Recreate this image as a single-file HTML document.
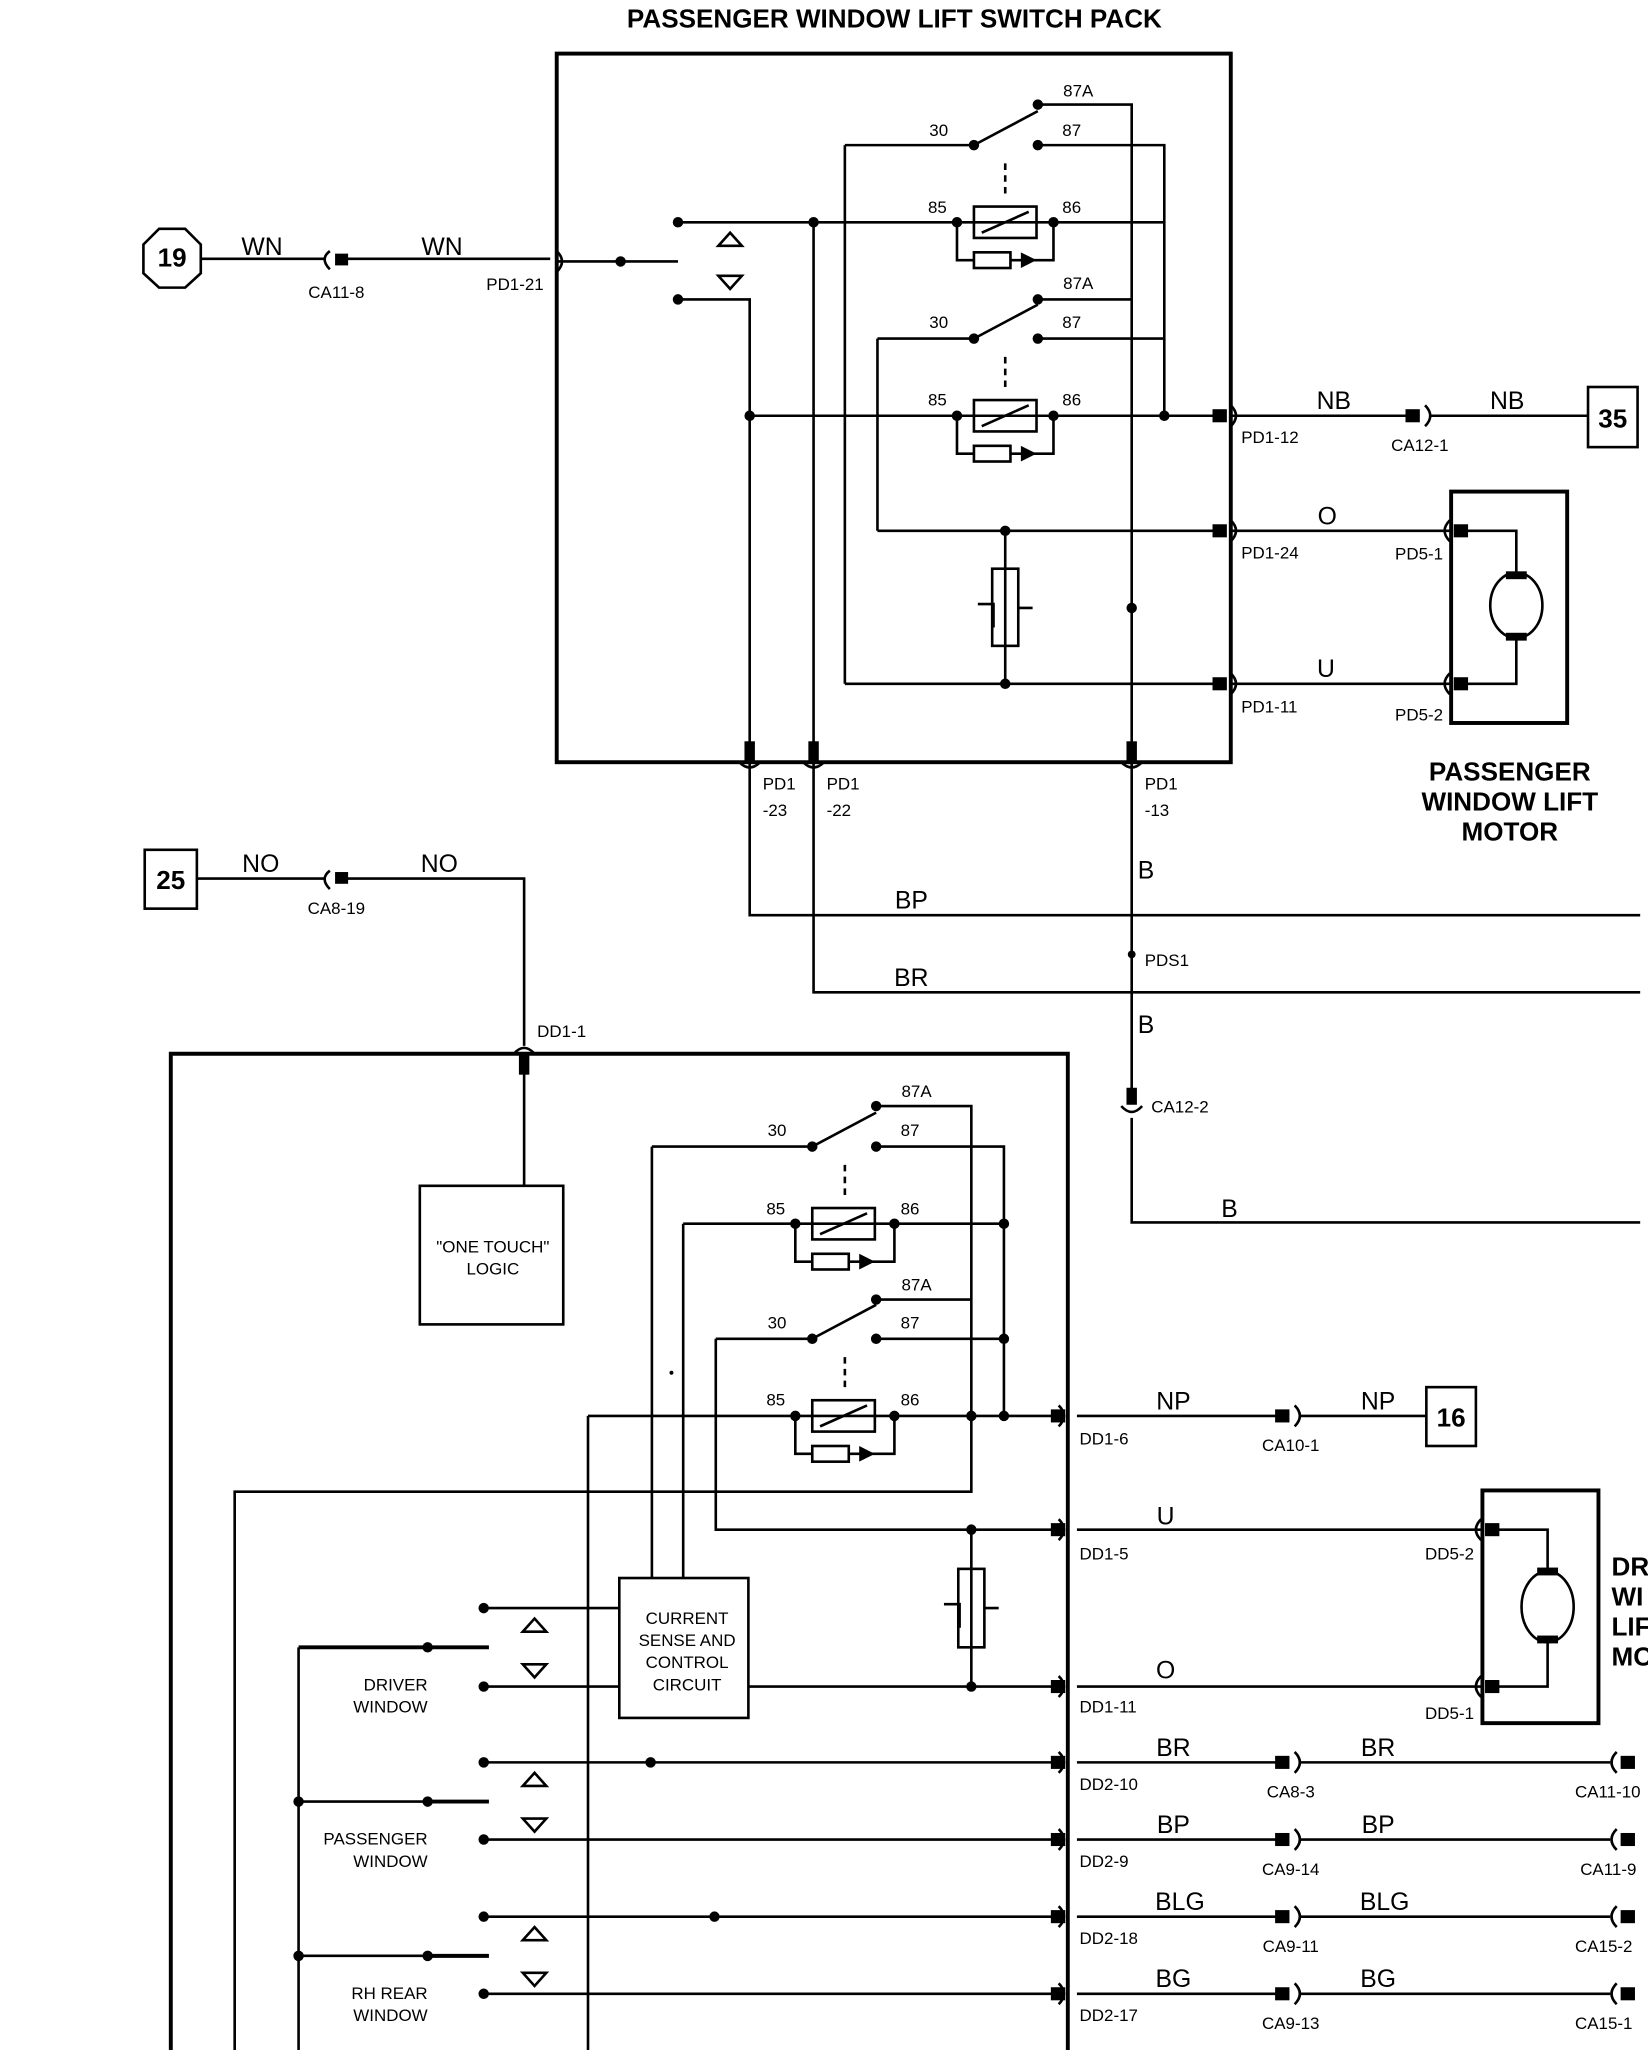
<!DOCTYPE html>
<html><head><meta charset="utf-8"><style>
html,body{margin:0;padding:0;background:#fff}
svg{display:block}
text{font-family:"Liberation Sans",sans-serif;fill:#000}
.s{font-size:13px}.m{font-size:19px}.b{font-size:20px;font-weight:bold}
</style></head><body>
<svg width="1648" height="2050" viewBox="0 0 1264 1568" preserveAspectRatio="none" xmlns="http://www.w3.org/2000/svg">
<g stroke="#000" stroke-width="2" fill="none">
<!-- box1 -->
<rect x="427" y="41" width="517" height="542" stroke-width="3"/>
<!-- 19 -->
<path d="M122 175 L142 175 L154 187 L154 209 L142 220 L122 220 L110 209 L110 187 Z"/>
<path d="M154 198 H250 M262 198 H422 M427 200 H520 M520 170 H808 M520 229 H575 V573 M624 170 V573"/>
<path d="M734 170 V199 H747 M775 199 H808 V170 M808 170 H893"/>
<path d="M648 111 H747 M648 111 V523 M796 111 H893 V318 M796 80 H868 V573 M747 111 L796 85"/>
<path d="M771 125 V150 M771 273 V298" stroke-dasharray="5 4"/>
<path d="M796 229 H868 M673 259 H747 M673 259 V406 M796 259 H893 M747 259 L796 233"/>
<path d="M575 318 H936 M734 318 V347 H747 M775 347 H808 V318"/>
<rect x="747" y="158" width="48" height="24"/><rect x="747" y="193" width="28" height="12"/>
<rect x="747" y="306" width="48" height="24"/><rect x="747" y="341" width="28" height="12"/>
<path d="M753 178 L789 162 M753 326 L789 310"/>
<path d="M673 406 H936 M771 406 V523 M648 523 H936"/>
<rect x="761" y="435" width="20" height="59"/><path d="M750 462 H762 V480 M781 465 H792"/>
<path d="M944 318 H1080 M1096 318 H1218 M944 406 H1112 M944 523 H1112"/>
<rect x="1218" y="296" width="38" height="46"/>
<rect x="1113" y="376" width="89" height="177" stroke-width="3"/>
<path d="M1120 406 H1163 V440 M1120 523 H1163 V488"/>
<ellipse cx="1163" cy="463" rx="20" ry="25"/>
<!-- bus lines -->
<rect x="111" y="650" width="40" height="45"/>
<path d="M151 672 H250 M262 672 H402 V800 M402 815 V907 M575 583 V700 H1258 M624 583 V759 H1258 M868 583 V840 M868 855 V935 H1258"/>
<!-- box2 -->
<path d="M131 1568 V806 H819 V1568" stroke-width="3"/>
<rect x="322" y="907" width="110" height="106"/>
<path d="M500 877 H623 M500 877 V1207 M672 877 H770 V1083 M672 846 H745 V1141 H180 V1568 M623 877 L672 851"/>
<path d="M648 891 V916 M648 1038 V1063" stroke-dasharray="5 4"/>
<path d="M524 936 H770 M524 936 V1207 M610 936 V965 H623 M651 965 H686 V936"/>
<rect x="623" y="924" width="48" height="24"/><rect x="623" y="959" width="28" height="12"/>
<path d="M549 1024 H623 M549 1024 V1170 H812 M672 1024 H770 M672 994 H745 M623 1024 L672 998"/>
<path d="M451 1083 H812 M451 1083 V1568 M610 1083 V1112 H623 M651 1112 H686 V1083"/>
<rect x="623" y="1071" width="48" height="24"/><rect x="623" y="1106" width="28" height="12"/>
<path d="M629 944 L665 928 M629 1091 L665 1075"/>
<path d="M745 1170 V1290 M574 1290 H812"/>
<rect x="735" y="1200" width="20" height="60"/><path d="M724 1227 H736 V1245 M755 1230 H766"/>
<rect x="475" y="1207" width="99" height="107"/>
<path d="M371 1230 H475 M371 1290 H475 M229 1260 V1568 M229 1378 H328 M229 1496 H328"/>
<path d="M229 1260 H328" stroke-width="3"/>
<path d="M328 1260 H375 M328 1378 H375 M328 1496 H375" stroke-width="3"/>
<path d="M371 1348 H812 M371 1407 H812 M371 1466 H812 M371 1525 H812"/>
<path d="M826 1083 H980 M996 1083 H1094 M826 1170 H1137 M826 1290 H1137"/>
<rect x="1094" y="1061" width="38" height="45"/>
<rect x="1137" y="1140" width="89" height="178" stroke-width="3"/>
<path d="M1144 1170 H1187 V1200 M1144 1290 H1187 V1255"/>
<ellipse cx="1187" cy="1229" rx="20" ry="27"/>
<path d="M826 1348 H980 M996 1348 H1235 M826 1407 H980 M996 1407 H1235 M826 1466 H980 M996 1466 H1235 M826 1525 H980 M996 1525 H1235"/>
<!-- triangles -->
<path d="M551 188 L560 178 L569 188 Z M551 211 L569 211 L560 221 Z"/>
<path d="M401 1248 L410 1238 L419 1248 Z M401 1273 L419 1273 L410 1283 Z M401 1366 L410 1356 L419 1366 Z M401 1391 L419 1391 L410 1401 Z M401 1484 L410 1474 L419 1484 Z M401 1509 L419 1509 L410 1519 Z"/>
<!-- connector brackets -->
<path d="M253 192 Q245 198 253 206 M427 192 Q435 200 427 208 M944 310 Q952 318 944 326 M944 398 Q952 406 944 414 M944 515 Q952 523 944 531 M1093 310 Q1101 318 1093 326 M1112 398 Q1104 406 1112 414 M1112 515 Q1104 523 1112 531 M253 666 Q245 672 253 680 M394 806 Q402 797 410 806 M860 846 Q868 855 876 846 M567 583 Q575 591 583 583 M616 583 Q624 591 632 583 M860 583 Q868 591 876 583"/>
<path d="M812 1075 Q820 1083 812 1091 M812 1162 Q820 1170 812 1178 M812 1282 Q820 1290 812 1298 M812 1340 Q820 1348 812 1356 M812 1399 Q820 1407 812 1415 M812 1458 Q820 1466 812 1474 M812 1517 Q820 1525 812 1533 M993 1075 Q1001 1083 993 1091 M1136 1162 Q1128 1170 1136 1178 M1136 1282 Q1128 1290 1136 1298"/>
<path d="M993 1340 Q1001 1348 993 1356 M993 1399 Q1001 1407 993 1415 M993 1458 Q1001 1466 993 1474 M993 1517 Q1001 1525 993 1533 M1240 1340 Q1232 1348 1240 1356 M1240 1399 Q1232 1407 1240 1415 M1240 1458 Q1232 1466 1240 1474 M1240 1517 Q1232 1525 1240 1533"/>
</g>
<g fill="#000">
<polygon points="783,193 783,205 795,199"/><polygon points="783,341 783,353 795,347"/>
<polygon points="659,959 659,971 671,965"/><polygon points="659,1106 659,1118 671,1112"/>
<rect x="257" y="194" width="10" height="9"/><rect x="930" y="313" width="11" height="10"/><rect x="930" y="401" width="11" height="10"/><rect x="930" y="518" width="11" height="10"/>
<rect x="1078" y="313" width="11" height="10"/><rect x="1115" y="401" width="11" height="10"/><rect x="1115" y="518" width="11" height="10"/>
<rect x="257" y="667" width="10" height="9"/><rect x="398" y="806" width="8" height="16"/><rect x="864" y="832" width="8" height="13"/>
<rect x="571" y="567" width="8" height="16"/><rect x="620" y="567" width="8" height="16"/><rect x="864" y="567" width="8" height="16"/>
<rect x="806" y="1078" width="11" height="10"/><rect x="806" y="1165" width="11" height="10"/><rect x="806" y="1285" width="11" height="10"/><rect x="806" y="1343" width="11" height="10"/><rect x="806" y="1402" width="11" height="10"/><rect x="806" y="1461" width="11" height="10"/><rect x="806" y="1520" width="11" height="10"/>
<rect x="978" y="1078" width="11" height="10"/><rect x="978" y="1343" width="11" height="10"/><rect x="978" y="1402" width="11" height="10"/><rect x="978" y="1461" width="11" height="10"/><rect x="978" y="1520" width="11" height="10"/>
<rect x="1139" y="1165" width="11" height="10"/><rect x="1139" y="1285" width="11" height="10"/>
<rect x="1243" y="1343" width="11" height="10"/><rect x="1243" y="1402" width="11" height="10"/><rect x="1243" y="1461" width="11" height="10"/><rect x="1243" y="1520" width="11" height="10"/>
<rect x="1155" y="437" width="16" height="6"/><rect x="1155" y="484" width="16" height="6"/>
<rect x="1179" y="1199" width="16" height="6"/><rect x="1179" y="1251" width="16" height="6"/>
<g>
<circle cx="476" cy="200" r="4"/><circle cx="520" cy="170" r="4"/><circle cx="520" cy="229" r="4"/><circle cx="624" cy="170" r="4"/><circle cx="734" cy="170" r="4"/><circle cx="808" cy="170" r="4"/>
<circle cx="747" cy="111" r="4"/><circle cx="796" cy="80" r="4"/><circle cx="796" cy="111" r="4"/>
<circle cx="747" cy="259" r="4"/><circle cx="796" cy="229" r="4"/><circle cx="796" cy="259" r="4"/>
<circle cx="575" cy="318" r="4"/><circle cx="734" cy="318" r="4"/><circle cx="808" cy="318" r="4"/><circle cx="893" cy="318" r="4"/>
<circle cx="771" cy="406" r="4"/><circle cx="771" cy="523" r="4"/><circle cx="868" cy="465" r="4"/><circle cx="868" cy="730" r="3"/>
<circle cx="623" cy="877" r="4"/><circle cx="672" cy="846" r="4"/><circle cx="672" cy="877" r="4"/>
<circle cx="610" cy="936" r="4"/><circle cx="686" cy="936" r="4"/><circle cx="770" cy="936" r="4"/>
<circle cx="623" cy="1024" r="4"/><circle cx="672" cy="994" r="4"/><circle cx="672" cy="1024" r="4"/><circle cx="770" cy="1024" r="4"/>
<circle cx="610" cy="1083" r="4"/><circle cx="686" cy="1083" r="4"/><circle cx="745" cy="1083" r="4"/><circle cx="770" cy="1083" r="4"/>
<circle cx="745" cy="1170" r="4"/><circle cx="745" cy="1290" r="4"/>
<circle cx="371" cy="1230" r="4"/><circle cx="328" cy="1260" r="4"/><circle cx="371" cy="1290" r="4"/>
<circle cx="371" cy="1348" r="4"/><circle cx="328" cy="1378" r="4"/><circle cx="371" cy="1407" r="4"/><circle cx="499" cy="1348" r="4"/>
<circle cx="371" cy="1466" r="4"/><circle cx="328" cy="1496" r="4"/><circle cx="371" cy="1525" r="4"/><circle cx="548" cy="1466" r="4"/>
<circle cx="229" cy="1378" r="4"/><circle cx="229" cy="1496" r="4"/><circle cx="515" cy="1050" r="1.5"/>
</g>
</g>
<text x="686" y="21" class="b" text-anchor="middle">PASSENGER WINDOW LIFT SWITCH PACK</text>
<text x="132" y="204" class="b" text-anchor="middle">19</text>
<text x="201" y="195" class="m" text-anchor="middle">WN</text><text x="339" y="195" class="m" text-anchor="middle">WN</text>
<text x="258" y="228" class="s" text-anchor="middle">CA11-8</text><text x="395" y="222" class="s" text-anchor="middle">PD1-21</text>
<text x="827" y="74" class="s" text-anchor="middle">87A</text><text x="720" y="104" class="s" text-anchor="middle">30</text><text x="822" y="104" class="s" text-anchor="middle">87</text>
<text x="719" y="163" class="s" text-anchor="middle">85</text><text x="822" y="163" class="s" text-anchor="middle">86</text>
<text x="827" y="221" class="s" text-anchor="middle">87A</text><text x="720" y="251" class="s" text-anchor="middle">30</text><text x="822" y="251" class="s" text-anchor="middle">87</text>
<text x="719" y="310" class="s" text-anchor="middle">85</text><text x="822" y="310" class="s" text-anchor="middle">86</text>
<text x="952" y="339" class="s">PD1-12</text><text x="952" y="427" class="s">PD1-24</text><text x="952" y="545" class="s">PD1-11</text>
<text x="1023" y="313" class="m" text-anchor="middle">NB</text><text x="1156" y="313" class="m" text-anchor="middle">NB</text>
<text x="1089" y="345" class="s" text-anchor="middle">CA12-1</text>
<text x="1237" y="327" class="b" text-anchor="middle">35</text>
<text x="1018" y="401" class="m" text-anchor="middle">O</text><text x="1017" y="518" class="m" text-anchor="middle">U</text>
<text x="1070" y="428" class="s">PD5-1</text><text x="1070" y="551" class="s">PD5-2</text>
<text x="1158" y="597" class="b" text-anchor="middle">PASSENGER</text><text x="1158" y="620" class="b" text-anchor="middle">WINDOW LIFT</text><text x="1158" y="643" class="b" text-anchor="middle">MOTOR</text>
<text x="585" y="604" class="s">PD1</text><text x="585" y="624" class="s">-23</text><text x="634" y="604" class="s">PD1</text><text x="634" y="624" class="s">-22</text><text x="878" y="604" class="s">PD1</text><text x="878" y="624" class="s">-13</text>
<text x="131" y="680" class="b" text-anchor="middle">25</text>
<text x="200" y="667" class="m" text-anchor="middle">NO</text><text x="337" y="667" class="m" text-anchor="middle">NO</text>
<text x="258" y="699" class="s" text-anchor="middle">CA8-19</text>
<text x="879" y="672" class="m" text-anchor="middle">B</text><text x="699" y="695" class="m" text-anchor="middle">BP</text><text x="699" y="754" class="m" text-anchor="middle">BR</text>
<text x="878" y="739" class="s">PDS1</text><text x="879" y="790" class="m" text-anchor="middle">B</text>
<text x="412" y="793" class="s">DD1-1</text><text x="883" y="851" class="s">CA12-2</text><text x="943" y="931" class="m" text-anchor="middle">B</text>
<text x="378" y="958" class="s" text-anchor="middle">"ONE TOUCH"</text><text x="378" y="975" class="s" text-anchor="middle">LOGIC</text>
<text x="703" y="839" class="s" text-anchor="middle">87A</text><text x="596" y="869" class="s" text-anchor="middle">30</text><text x="698" y="869" class="s" text-anchor="middle">87</text>
<text x="595" y="929" class="s" text-anchor="middle">85</text><text x="698" y="929" class="s" text-anchor="middle">86</text>
<text x="703" y="987" class="s" text-anchor="middle">87A</text><text x="596" y="1016" class="s" text-anchor="middle">30</text><text x="698" y="1016" class="s" text-anchor="middle">87</text>
<text x="595" y="1075" class="s" text-anchor="middle">85</text><text x="698" y="1075" class="s" text-anchor="middle">86</text>
<text x="828" y="1105" class="s">DD1-6</text><text x="828" y="1193" class="s">DD1-5</text><text x="828" y="1310" class="s">DD1-11</text>
<text x="900" y="1078" class="m" text-anchor="middle">NP</text><text x="1057" y="1078" class="m" text-anchor="middle">NP</text>
<text x="990" y="1110" class="s" text-anchor="middle">CA10-1</text><text x="1113" y="1091" class="b" text-anchor="middle">16</text>
<text x="894" y="1166" class="m" text-anchor="middle">U</text><text x="894" y="1284" class="m" text-anchor="middle">O</text>
<text x="1093" y="1193" class="s">DD5-2</text><text x="1093" y="1315" class="s">DD5-1</text>
<text x="1236" y="1205" class="b">DR</text><text x="1236" y="1228" class="b">WI</text><text x="1236" y="1251" class="b">LIF</text><text x="1236" y="1274" class="b">MO</text>
<text x="527" y="1242" class="s" text-anchor="middle">CURRENT</text><text x="527" y="1259" class="s" text-anchor="middle">SENSE AND</text><text x="527" y="1276" class="s" text-anchor="middle">CONTROL</text><text x="527" y="1293" class="s" text-anchor="middle">CIRCUIT</text>
<text x="328" y="1293" class="s" text-anchor="end">DRIVER</text><text x="328" y="1310" class="s" text-anchor="end">WINDOW</text>
<text x="328" y="1411" class="s" text-anchor="end">PASSENGER</text><text x="328" y="1428" class="s" text-anchor="end">WINDOW</text>
<text x="328" y="1529" class="s" text-anchor="end">RH REAR</text><text x="328" y="1546" class="s" text-anchor="end">WINDOW</text>
<text x="828" y="1369" class="s">DD2-10</text><text x="828" y="1428" class="s">DD2-9</text><text x="828" y="1487" class="s">DD2-18</text><text x="828" y="1546" class="s">DD2-17</text>
<text x="900" y="1343" class="m" text-anchor="middle">BR</text><text x="1057" y="1343" class="m" text-anchor="middle">BR</text>
<text x="900" y="1402" class="m" text-anchor="middle">BP</text><text x="1057" y="1402" class="m" text-anchor="middle">BP</text>
<text x="905" y="1461" class="m" text-anchor="middle">BLG</text><text x="1062" y="1461" class="m" text-anchor="middle">BLG</text>
<text x="900" y="1520" class="m" text-anchor="middle">BG</text><text x="1057" y="1520" class="m" text-anchor="middle">BG</text>
<text x="990" y="1375" class="s" text-anchor="middle">CA8-3</text><text x="990" y="1434" class="s" text-anchor="middle">CA9-14</text><text x="990" y="1493" class="s" text-anchor="middle">CA9-11</text><text x="990" y="1552" class="s" text-anchor="middle">CA9-13</text>
<text x="1208" y="1375" class="s">CA11-10</text><text x="1212" y="1434" class="s">CA11-9</text><text x="1208" y="1493" class="s">CA15-2</text><text x="1208" y="1552" class="s">CA15-1</text>
</svg>
</body></html>
